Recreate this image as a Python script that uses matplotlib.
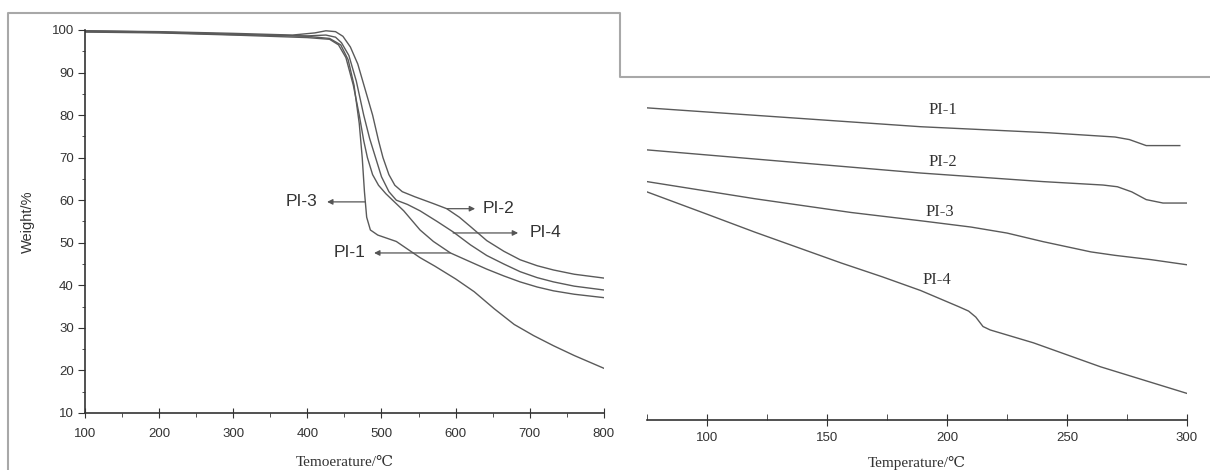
import matplotlib
matplotlib.use("Agg")
import matplotlib.pyplot as plt
from matplotlib.lines import Line2D
from matplotlib.ticker import MultipleLocator

# ---- left panel: TGA curves, temperature (C) vs weight (%) ----
pi1_t = [100, 200, 300, 400, 430, 442, 452, 462, 470, 476, 481, 488, 496, 506, 518, 530,
         552, 570, 593, 620, 642, 665, 687, 710, 732, 760, 800]
pi1_w = [99.5, 99.3, 98.8, 98.2, 97.8, 96.5, 93.5, 87, 80, 74, 70, 66, 63.5, 61.5, 59.5, 57.5,
         53, 50.3, 47.6, 45.5, 43.8, 42.2, 40.8, 39.6, 38.7, 37.9, 37.1]

pi2_t = [100, 200, 300, 380, 410, 425, 438, 448, 458, 468, 478, 488, 496, 502, 510, 518, 528,
         545, 570, 588, 605, 620, 642, 665, 687, 710, 732, 760, 800]
pi2_w = [99.8, 99.6, 99.2, 98.8, 99.3, 99.8, 99.6, 98.5, 96, 92, 86, 80, 74, 70, 66, 63.5, 62,
         60.8, 59.2, 58, 56, 53.8, 50.5, 48, 46, 44.6, 43.6, 42.6, 41.7]

pi3_t = [100, 200, 300, 400, 430, 445, 455, 463, 470, 474, 477, 480, 485, 495, 520, 552,
         572, 600, 625, 652, 679, 705, 732, 760, 800]
pi3_w = [99.8, 99.5, 99.0, 98.5, 98.0, 96.5, 93, 87, 78, 70, 62, 56, 53, 51.8, 50.3, 46.5,
         44.5, 41.5, 38.5, 34.5, 30.8, 28.2, 25.8, 23.5, 20.5]

pi4_t = [100, 200, 300, 400, 425, 438, 446, 456, 466, 476, 484, 492, 500, 510, 520, 535,
         552, 575, 597, 620, 642, 665, 687, 710, 732, 760, 800]
pi4_w = [99.6, 99.4, 98.9, 98.6, 98.8, 98.3, 97, 94, 88, 80, 74.5, 70, 65.5, 62, 60, 59,
         57.5, 55, 52.5, 49.5, 47, 45, 43.2, 41.8, 40.8, 39.8, 38.9]

# ---- right panel: 75-300 C region (no y axis shown) ----
r1_t = [75, 189, 242, 270, 276, 280, 283, 290, 297]
r1_w = [99.64, 99.42, 99.35, 99.30, 99.27, 99.23, 99.20, 99.20, 99.20]

r2_t = [75, 189, 240, 265, 271, 277, 283, 290, 300]
r2_w = [99.15, 98.88, 98.78, 98.74, 98.72, 98.66, 98.57, 98.53, 98.53]

r3_t = [75, 120, 160, 190, 210, 225, 240, 250, 260, 270, 285, 300]
r3_w = [98.78, 98.58, 98.42, 98.32, 98.25, 98.18, 98.08, 98.02, 97.96, 97.92, 97.87, 97.81]

r4_t = [75, 100, 120, 139, 156, 173, 189, 205, 209, 212, 215, 218, 236, 264, 300]
r4_w = [98.66, 98.40, 98.19, 98.00, 97.83, 97.67, 97.51, 97.32, 97.27, 97.20, 97.09, 97.05,
        96.90, 96.62, 96.31]

curve_color = '#5a5a5a'
sans = ['Liberation Sans', 'DejaVu Sans']
serif = ['Liberation Serif', 'DejaVu Serif', 'Noto Sans CJK SC']

fig = plt.figure(figsize=(12.1, 4.7), dpi=100)

# left
ax = fig.add_axes([0.0702, 0.1213, 0.4289, 0.815])
for t, w in [(pi1_t, pi1_w), (pi2_t, pi2_w), (pi3_t, pi3_w), (pi4_t, pi4_w)]:
    ax.plot(t, w, color=curve_color, lw=1.0)
ax.set_xlim(100, 800)
ax.set_ylim(10, 100)
ax.xaxis.set_major_locator(MultipleLocator(100))
ax.xaxis.set_minor_locator(MultipleLocator(50))
ax.yaxis.set_major_locator(MultipleLocator(10))
ax.yaxis.set_minor_locator(MultipleLocator(5))
for s in ['top', 'right']:
    ax.spines[s].set_visible(False)
for s in ['left', 'bottom']:
    ax.spines[s].set_color('#333333')
    ax.spines[s].set_linewidth(1.2)
ax.tick_params(axis='x', which='major', direction='inout', length=7, colors='#333333', pad=7)
ax.tick_params(axis='x', which='minor', direction='out', length=3, colors='#333333')
ax.tick_params(axis='y', which='major', direction='out', length=5, colors='#333333', pad=3)
ax.tick_params(axis='y', which='minor', direction='out', length=2.5, colors='#333333')
for lab in ax.get_xticklabels() + ax.get_yticklabels():
    lab.set_family(sans)
    lab.set_fontsize(9.5)
    lab.set_color('#333333')
ax.set_ylabel('Weight/%', family=sans, fontsize=10.5, color='#333333', labelpad=12)
ax.set_xlabel('Temoerature/\u2103', family=serif, fontsize=11, color='#333333', labelpad=12)

arrow_kw = dict(arrowstyle='-|>', color='#555555', lw=0.9, mutation_scale=8, shrinkA=0, shrinkB=0)
# (label, curve point, arrow head, text x, alignment)
notes = [('PI-3', (477.9, 59.6), (426.6, 59.6), 414, 'right'),
         ('PI-2', (588.5, 58.0), (626.3, 58.0), 637, 'left'),
         ('PI-4', (596.6, 52.3), (684.3, 52.3), 700, 'left'),
         ('PI-1', (592.6, 47.6), (490.0, 47.6), 479, 'right')]
for lab, tail, head, tx, ha in notes:
    ax.annotate('', xy=head, xytext=tail, arrowprops=arrow_kw)
    ax.text(tx, head[1], lab, ha=ha, va='center', family=sans, fontsize=12.5, color='#333333')

# right
ax2 = fig.add_axes([0.5347, 0.1064, 0.4463, 0.7298])
for t, w in [(r1_t, r1_w), (r2_t, r2_w), (r3_t, r3_w), (r4_t, r4_w)]:
    ax2.plot(t, w, color=curve_color, lw=1.0)
ax2.set_xlim(75, 300)
ax2.set_ylim(96, 100)
for s in ['top', 'right', 'left']:
    ax2.spines[s].set_visible(False)
ax2.spines['bottom'].set_color('#333333')
ax2.spines['bottom'].set_linewidth(1.2)
ax2.set_yticks([])
ax2.xaxis.set_minor_locator(MultipleLocator(25))
ax2.set_xticks([100, 150, 200, 250, 300])
ax2.tick_params(axis='x', which='major', direction='inout', length=8, colors='#333333', pad=5)
ax2.tick_params(axis='x', which='minor', direction='in', length=4, colors='#333333')
for lab in ax2.get_xticklabels():
    lab.set_family(sans)
    lab.set_fontsize(9.5)
    lab.set_color('#333333')
ax2.set_xlabel('Temperature/\u2103', family=serif, fontsize=11, color='#333333', labelpad=8)
for lab, x, y in [('PI-1', 198.3, 99.62), ('PI-2', 198.3, 99.01),
                  ('PI-3', 197.0, 98.43), ('PI-4', 195.8, 97.63)]:
    ax2.text(x, y, lab, ha='center', va='center', family=serif, fontsize=12, color='#333333')

# grey outline of the scanned figure
W, H = 1210.0, 470.0
px = [8, 8, 620, 620, 1210]
py = [470, 13, 13, 77, 77]
fig.add_artist(Line2D([x / W for x in px], [1 - y / H for y in py],
                      transform=fig.transFigure, color='#a8a8a8', lw=1.5))

fig.savefig('out.png', dpi=100, facecolor='white')
